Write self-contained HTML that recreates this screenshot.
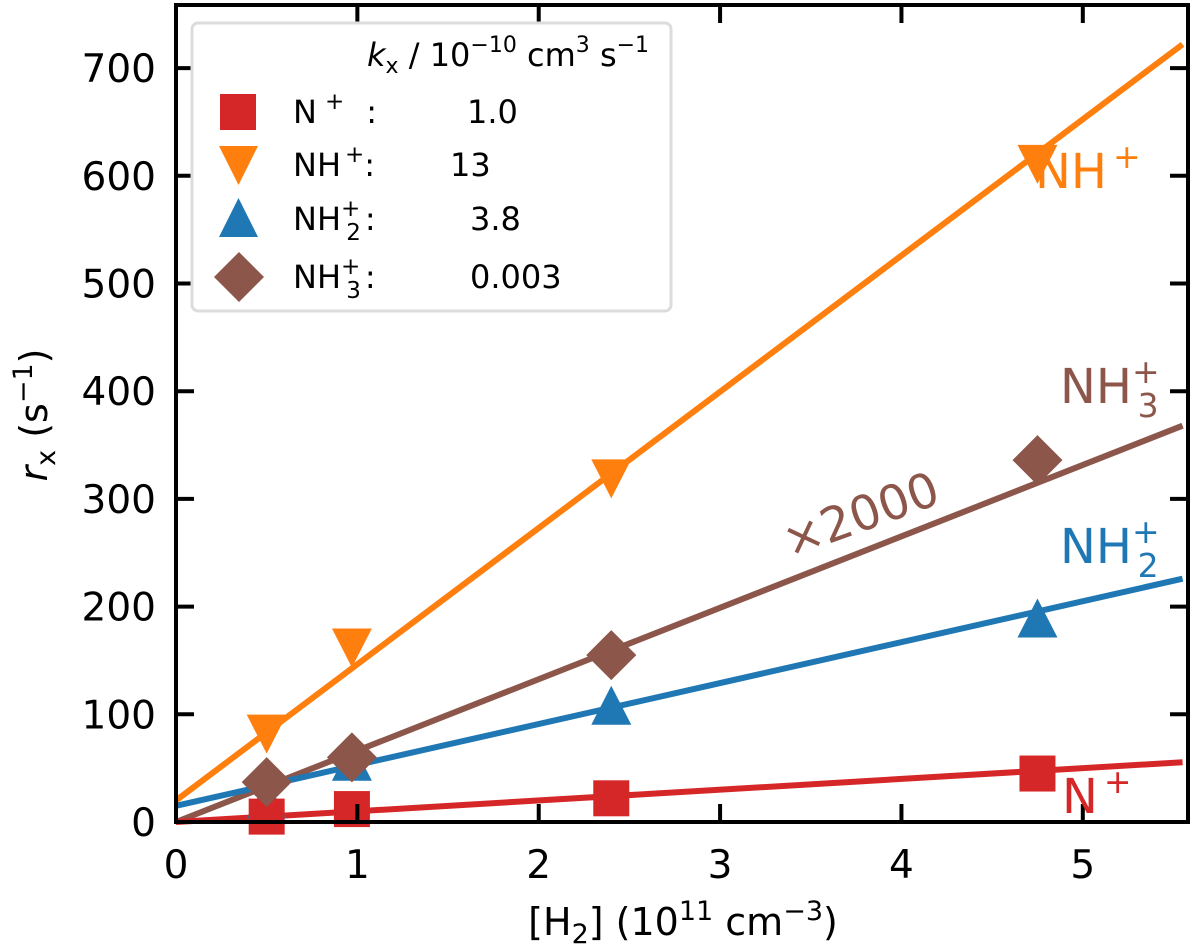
<!DOCTYPE html>
<html><head><meta charset="utf-8"><style>
body{margin:0;background:#fff}
svg{display:block;font-family:"DejaVu Sans","Liberation Sans",sans-serif}
</style></head><body>
<svg id="chart" width="1200" height="947" viewBox="0 0 1200 947">
<g id="plot"></g>
<g>
<rect x="192" y="23" width="479" height="288" rx="6" fill="#fff" stroke="#dcdcdc" stroke-width="3"/>
<text x="367" y="66" font-size="32"><tspan font-style="italic">k</tspan><tspan font-size="22" dy="7">x</tspan><tspan dy="-7"> / 10</tspan><tspan font-size="22" dy="-14">−10</tspan><tspan dy="14"> cm</tspan><tspan font-size="22" dy="-14">3</tspan><tspan dy="14"> s</tspan><tspan font-size="22" dy="-14">−1</tspan></text>
<rect x="220" y="94" width="36" height="36" fill="#d62728"/>
<text x="293" y="123" font-size="32">N<tspan font-size="23" dx="8" dy="-14">+</tspan><tspan dx="22" dy="14">:</tspan></text><text x="467" y="123" font-size="32">1.0</text>
<polygon points="219,146 258,146 238.5,185" fill="#ff7f0e"/>
<text x="293" y="176" font-size="32">NH<tspan font-size="23" dx="4" dy="-14">+</tspan><tspan dy="14">:</tspan></text><text x="450" y="176" font-size="32">13</text>
<polygon points="219,237 258,237 238.5,198" fill="#1f77b4"/>
<text x="293" y="230" font-size="32">NH<tspan font-size="23" dy="-14">+</tspan><tspan font-size="23" dx="-14" dy="24">2</tspan><tspan dx="4" dy="-10">:</tspan></text><text x="470" y="230" font-size="32">3.8</text>
<polygon points="214,277 239,252 264,277 239,302" fill="#8c564b"/>
<text x="293" y="288" font-size="32">NH<tspan font-size="23" dy="-14">+</tspan><tspan font-size="23" dx="-14" dy="24">3</tspan><tspan dx="4" dy="-10">:</tspan></text><text x="470" y="288" font-size="32">0.003</text>
</g>
<text x="1035" y="188" font-size="48" fill="#ff7f0e">NH<tspan font-size="33" dx="6" dy="-20">+</tspan></text>
<text x="1060" y="403" font-size="48" fill="#8c564b">NH<tspan font-size="33" dy="-20">+</tspan><tspan font-size="33" dx="-22" dy="34">3</tspan></text>
<text x="790" y="558" font-size="48" fill="#8c564b" transform="rotate(-20 790 558)">×2000</text>
<text x="1060" y="563" font-size="48" fill="#1f77b4">NH<tspan font-size="33" dy="-20">+</tspan><tspan font-size="33" dx="-22" dy="34">2</tspan></text>
<text x="1062" y="813" font-size="48" fill="#d62728">N<tspan font-size="33" dx="6" dy="-20">+</tspan></text>
<text transform="translate(47 415) rotate(-90)" text-anchor="middle" font-size="38"><tspan font-style="italic">r</tspan><tspan font-size="27" dy="8">x</tspan><tspan dy="-8"> (s</tspan><tspan font-size="27" dy="-15">−1</tspan><tspan dy="15">)</tspan></text>
<text x="683" y="935" text-anchor="middle" font-size="38">[H<tspan font-size="27" dy="8">2</tspan><tspan dy="-8">] (10</tspan><tspan font-size="27" dy="-15">11</tspan><tspan dy="15"> cm</tspan><tspan font-size="27" dy="-15">−3</tspan><tspan dy="15">)</tspan></text>
</svg>
<script>
const xTicks=[0,1,2,3,4,5];
const yTicks=[0,100,200,300,400,500,600,700];
const xData=[0.5,0.97,2.4,4.75];
const nVals=[5,12,22,45];
const nhVals=[83,163,320,612];
const nh2Vals=[20,55,107,188];
const nh3Vals=[37,60,155,336];
const nFit=[0,10];
const nhFit=[20,126.5];
const nh2Fit=[15,38];
const nh3Fit=[0,66.3];
const X0=176,X1=1188,Y0=822,Y1=5,XMAX=5.58,YMAX=758.6;
const sx=v=>X0+v/XMAX*(X1-X0);
const sy=v=>Y0-v/YMAX*(Y0-Y1);
const NS='http://www.w3.org/2000/svg';
const g=document.getElementById('plot');
function mk(t,a){const e=document.createElementNS(NS,t);for(const k in a)e.setAttribute(k,a[k]);g.appendChild(e);return e;}
function fit(f,c,name){const e=mk('line',{x1:sx(0),y1:sy(f[0]),x2:sx(5.55),y2:sy(f[0]+f[1]*5.55),stroke:c,'stroke-width':6});

}
function marks(vals,c,shape,name){vals.forEach((v,i)=>{const x=sx(xData[i]),y=sy(v);let e;
if(shape==='sq')e=mk('rect',{x:x-18,y:y-18,width:36,height:36,fill:c});
else if(shape==='down')e=mk('polygon',{points:`${x-20},${y-18} ${x+20},${y-18} ${x},${y+21}`,fill:c});
else if(shape==='up')e=mk('polygon',{points:`${x-20},${y+18} ${x+20},${y+18} ${x},${y-21}`,fill:c});
else e=mk('polygon',{points:`${x-25},${y} ${x},${y-25} ${x+25},${y} ${x},${y+25}`,fill:c});

});}
fit(nhFit,'#ff7f0e','fit-nh');fit(nh3Fit,'#8c564b','fit-nh3');fit(nh2Fit,'#1f77b4','fit-nh2');fit(nFit,'#d62728','fit-n');
marks(nh2Vals,'#1f77b4','up','point-nh2');marks(nVals,'#d62728','sq','point-n');marks(nhVals,'#ff7f0e','down','point-nh');marks(nh3Vals,'#8c564b','dia','point-nh3');
xTicks.forEach(t=>{const x=sx(t);mk('line',{x1:x,y1:Y0,x2:x,y2:Y0-18,stroke:'#000','stroke-width':4});mk('line',{x1:x,y1:Y1,x2:x,y2:Y1+18,stroke:'#000','stroke-width':4});
const e=mk('text',{x:x,y:Y0+56,'text-anchor':'middle','font-size':39});e.textContent=t;

});
yTicks.forEach(t=>{const y=sy(t);mk('line',{x1:X0,y1:y,x2:X0+18,y2:y,stroke:'#000','stroke-width':4});mk('line',{x1:X1,y1:y,x2:X1-18,y2:y,stroke:'#000','stroke-width':4});
const e=mk('text',{x:X0-20,y:y+14,'text-anchor':'end','font-size':39});e.textContent=t;

});
const f=mk('rect',{x:X0,y:Y1,width:X1-X0,height:Y0-Y1,fill:'none',stroke:'#000','stroke-width':4});


</script>
</body></html>
